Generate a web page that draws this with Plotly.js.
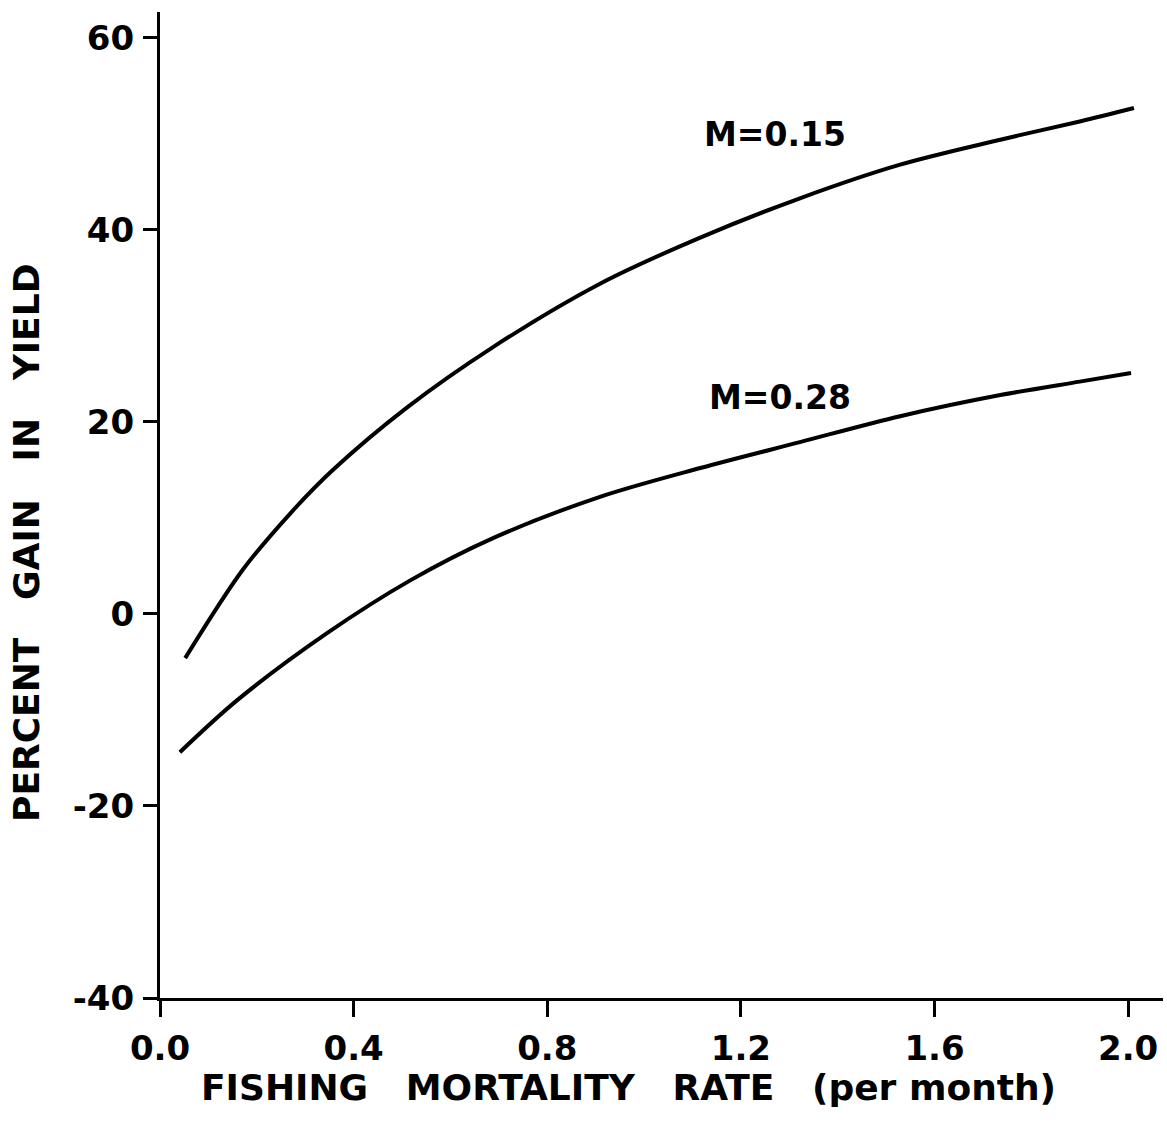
<!DOCTYPE html>
<html>
<head>
<meta charset="utf-8">
<script src="https://cdn.plot.ly/plotly-3.0.1.min.js"></script>
<style>html,body{margin:0;padding:0;background:#fff;}#chart{width:1167px;height:1134px;}</style>
</head>
<body>
<div id="chart"></div>
<script>
// Fishing mortality rate (per month)
const fUpper = [0.052, 0.171, 0.275, 0.357, 0.510, 0.688, 0.909, 1.116, 1.322, 1.529, 1.736, 1.900, 2.012];
const gainUpper = [-4.6, 4.6, 10.8, 15.0, 21.5, 27.8, 34.4, 39.2, 43.3, 46.8, 49.4, 51.3, 52.7];
const fLower = [0.041, 0.159, 0.345, 0.517, 0.688, 0.909, 1.116, 1.322, 1.529, 1.736, 1.900, 2.006];
const gainLower = [-14.4, -9.0, -2.0, 3.5, 7.9, 12.2, 15.2, 17.9, 20.6, 22.8, 24.2, 25.1];
const seriesNames = ["M=0.15", "M=0.28"];
const xTickVals = [0.0, 0.4, 0.8, 1.2, 1.6, 2.0];
const xTickText = ["0.0", "0.4", "0.8", "1.2", "1.6", "2.0"];
const yTickVals = [-40, -20, 0, 20, 40, 60];
const yTickText = ["-40", "-20", "0", "20", "40", "60"];
const labelPos = [{x: 1.27, y: 49.9}, {x: 1.28, y: 22.5}];

const FONT = "DejaVu Sans";
const lineStyle = {color: "#000", width: 4, shape: "spline", smoothing: 0.9};

const traces = [
  {x: fUpper, y: gainUpper, mode: "lines", name: seriesNames[0], line: lineStyle, hoverinfo: "skip"},
  {x: fLower, y: gainLower, mode: "lines", name: seriesNames[1], line: lineStyle, hoverinfo: "skip"}
];

const layout = {
  width: 1167, height: 1134,
  paper_bgcolor: "#fff", plot_bgcolor: "#fff",
  showlegend: false,
  margin: {l: 160, r: 4, t: 12, b: 136},
  font: {family: FONT, color: "#000", size: 30, weight: 700},
  xaxis: {
    range: [0, 2.072], showgrid: false, zeroline: false,
    showline: true, linecolor: "#000", linewidth: 3,
    ticks: "outside", ticklen: 16, tickwidth: 3, tickcolor: "#000",
    tickvals: xTickVals, ticktext: xTickText, ticklabelstandoff: 2,
    tickfont: {family: FONT, size: 34, color: "#000", weight: 700}
  },
  yaxis: {
    range: [-40, 62.7], showgrid: false, zeroline: false,
    showline: true, linecolor: "#000", linewidth: 3,
    ticks: "outside", ticklen: 14, tickwidth: 3, tickcolor: "#000",
    tickvals: yTickVals, ticktext: yTickText, ticklabelstandoff: 2,
    tickfont: {family: FONT, size: 34, color: "#000", weight: 700}
  },
  annotations: [
    {xref: "paper", yref: "paper", x: (628 - 160) / 1003, y: -(1087 - 998) / 986, text: "FISHING   MORTALITY   RATE   (per month)",
     showarrow: false, xanchor: "center", yanchor: "middle", font: {family: FONT, size: 36, color: "#000", weight: 700}},
    {xref: "paper", yref: "paper", x: -(160 - 26) / 1003, y: (998 - 543) / 986, text: "PERCENT   GAIN   IN   YIELD", textangle: -90,
     showarrow: false, xanchor: "center", yanchor: "middle", font: {family: FONT, size: 36, color: "#000", weight: 700}},
    {x: labelPos[0].x, y: labelPos[0].y, text: seriesNames[0], showarrow: false, xanchor: "center", yanchor: "middle",
     font: {family: FONT, size: 33, color: "#000", weight: 700}},
    {x: labelPos[1].x, y: labelPos[1].y, text: seriesNames[1], showarrow: false, xanchor: "center", yanchor: "middle",
     font: {family: FONT, size: 33, color: "#000", weight: 700}}
  ]
};

Plotly.newPlot("chart", traces, layout, {staticPlot: true, displayModeBar: false});
</script>
</body>
</html>
